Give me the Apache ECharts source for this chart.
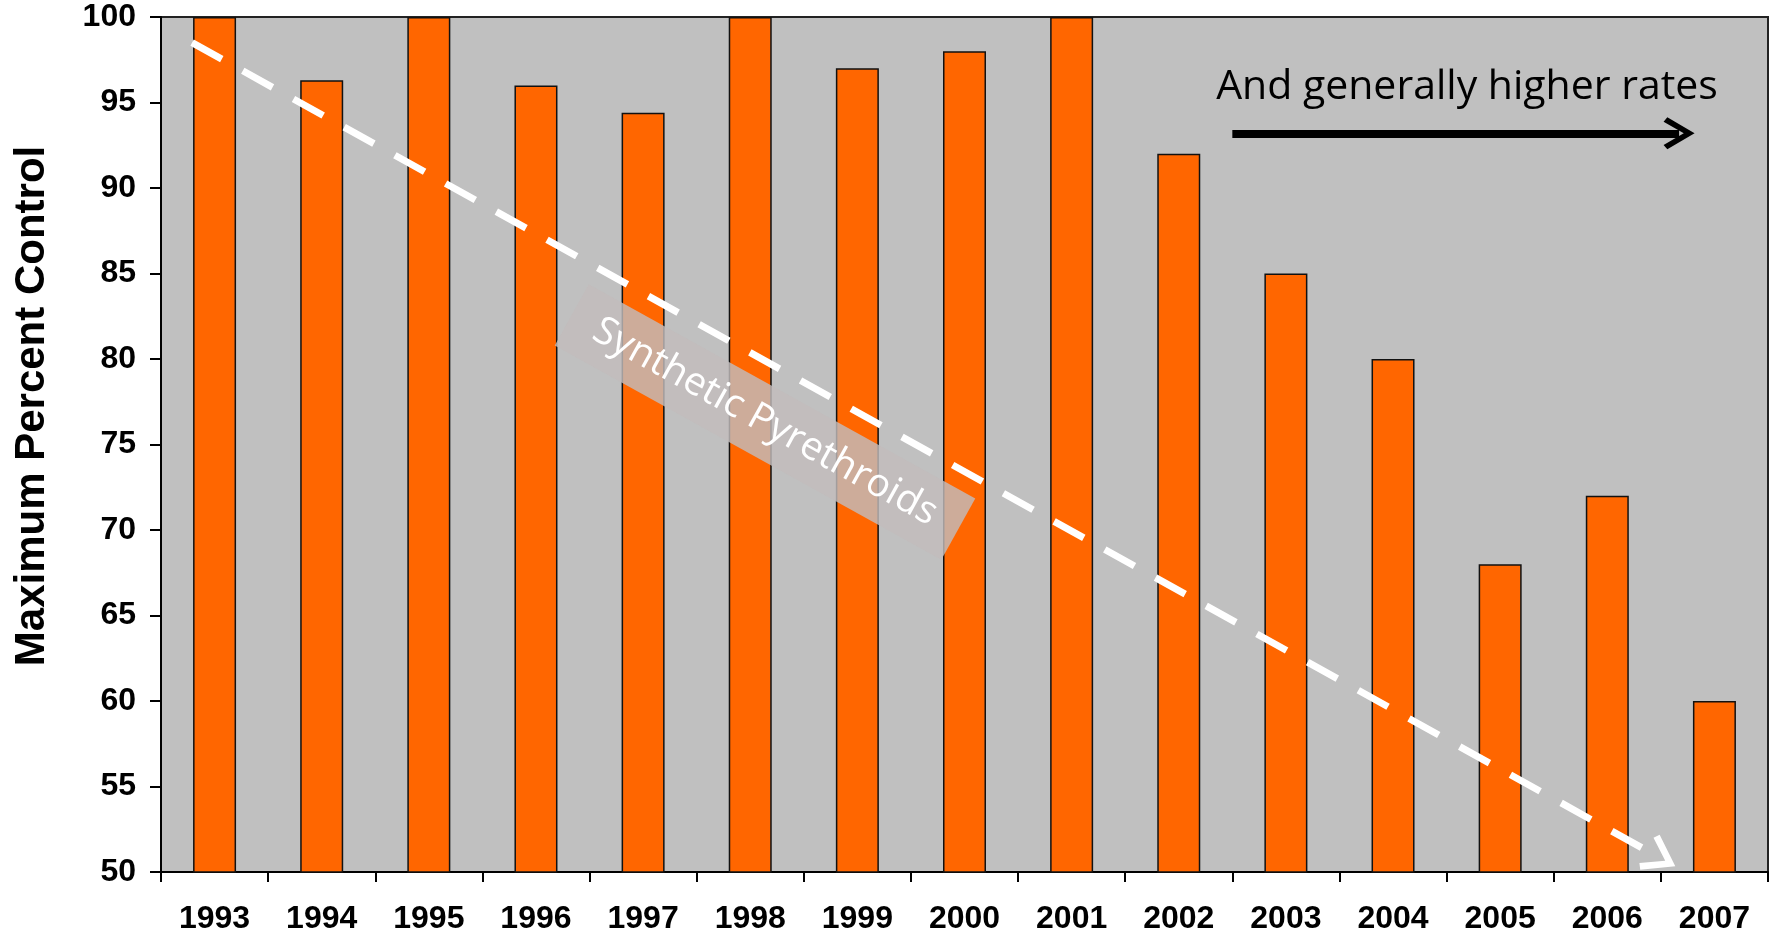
<!DOCTYPE html>
<html>
<head>
<meta charset="utf-8">
<script src="https://cdn.jsdelivr.net/npm/echarts@6/dist/echarts.min.js"></script>
<style>
  html, body { margin: 0; padding: 0; background: #fff; }
  #chart { width: 1775px; height: 935px; }
</style>
</head>
<body>
<div id="chart"></div>
<script>
// data
const years = ['1993', '1994', '1995', '1996', '1997', '1998', '1999', '2000',
               '2001', '2002', '2003', '2004', '2005', '2006', '2007'];
const maxControl = [100, 96.3, 100, 96, 94.4, 100, 97, 98, 100, 92, 85, 80, 68, 72, 60];
const yTicks = [50, 100, 5]; // min, max, step

// annotation arrows, in (category position 0..15, percent) units
const trendStart = [0.29, 98.5];
const trendEnd = [14.0, 50.8];
const ratesStart = [10.0, 93.2];
const ratesEnd = [14.17, 93.2];

const chevron = 'path://M20 0 L40 29 L34.5 33 L20 11.5 L5.5 33 L0 29 Z';

const chart = echarts.init(document.getElementById('chart'));

chart.setOption({
  animation: false,
  grid: {
    left: 161, right: 7, top: 17, bottom: 61,
    show: true,
    backgroundColor: '#C0C0C0',
    borderColor: '#222',
    borderWidth: 2
  },
  xAxis: [{
    type: 'category',
    data: years,
    axisLine: { lineStyle: { color: '#000', width: 2 } },
    axisTick: { show: true, length: 10, lineStyle: { color: '#000', width: 2 } },
    axisLabel: {
      margin: 31,
      fontFamily: 'Liberation Sans',
      fontWeight: 'bold',
      fontSize: 32,
      color: '#000'
    }
  }, {
    type: 'value',
    min: 0,
    max: 15,
    show: false
  }],
  yAxis: {
    type: 'value',
    min: yTicks[0],
    max: yTicks[1],
    interval: yTicks[2],
    axisLine: { show: true, lineStyle: { color: '#000', width: 2 } },
    axisTick: { show: true, length: 11, lineStyle: { color: '#000', width: 2 } },
    splitLine: { show: false },
    axisLabel: {
      margin: 25,
      fontFamily: 'Liberation Sans',
      fontWeight: 'bold',
      fontSize: 32,
      color: '#000'
    }
  },
  series: [{
    type: 'bar',
    data: maxControl,
    barWidth: 43,
    itemStyle: {
      color: '#FF6600',
      borderColor: '#111',
      borderWidth: 1.5
    }
  }, {
    // carries the two arrows on the hidden value axis
    type: 'line',
    xAxisIndex: 1,
    data: [],
    symbol: 'none',
    silent: true,
    z: 20,
    markLine: {
      silent: true,
      animation: false,
      label: { show: false },
      emphasis: { disabled: true },
      data: [
        [{
          coord: trendStart,
          symbol: 'none',
          lineStyle: { color: '#fff', width: 7, type: [34, 24], cap: 'butt' }
        }, {
          coord: trendEnd,
          symbol: chevron,
          symbolSize: [40, 33],
          itemStyle: { color: '#fff' }
        }],
        [{
          coord: ratesStart,
          symbol: 'none',
          lineStyle: { color: '#000', width: 8, type: 'solid', cap: 'butt' }
        }, {
          coord: ratesEnd,
          symbol: chevron,
          symbolSize: [32, 31],
          itemStyle: { color: '#000' }
        }]
      ]
    }
  }],
  graphic: [{
    type: 'text',
    x: 32, y: 406,
    rotation: Math.PI / 2,
    style: {
      text: 'Maximum Percent Control',
      font: 'bold 42px "Liberation Sans"',
      fill: '#000',
      align: 'center',
      verticalAlign: 'middle'
    }
  }, {
    type: 'text',
    x: 1467, y: 87,
    style: {
      text: 'And generally higher rates',
      font: '41px "Open Sans"',
      fill: '#000',
      align: 'center',
      verticalAlign: 'middle'
    }
  }, {
    type: 'group',
    x: 765, y: 422,
    z: 10,
    rotation: -29 * Math.PI / 180,
    children: [{
      type: 'rect',
      z: 10,
      shape: { x: -221, y: -35, width: 442, height: 70 },
      style: { fill: 'rgba(194,188,188,0.82)' }
    }, {
      type: 'text',
      z: 11,
      x: 0, y: 0,
      style: {
        text: 'Synthetic Pyrethroids',
        font: '39px "Open Sans"',
        fill: '#fff',
        align: 'center',
        verticalAlign: 'middle'
      }
    }]
  }]
});
</script>
</body>
</html>
